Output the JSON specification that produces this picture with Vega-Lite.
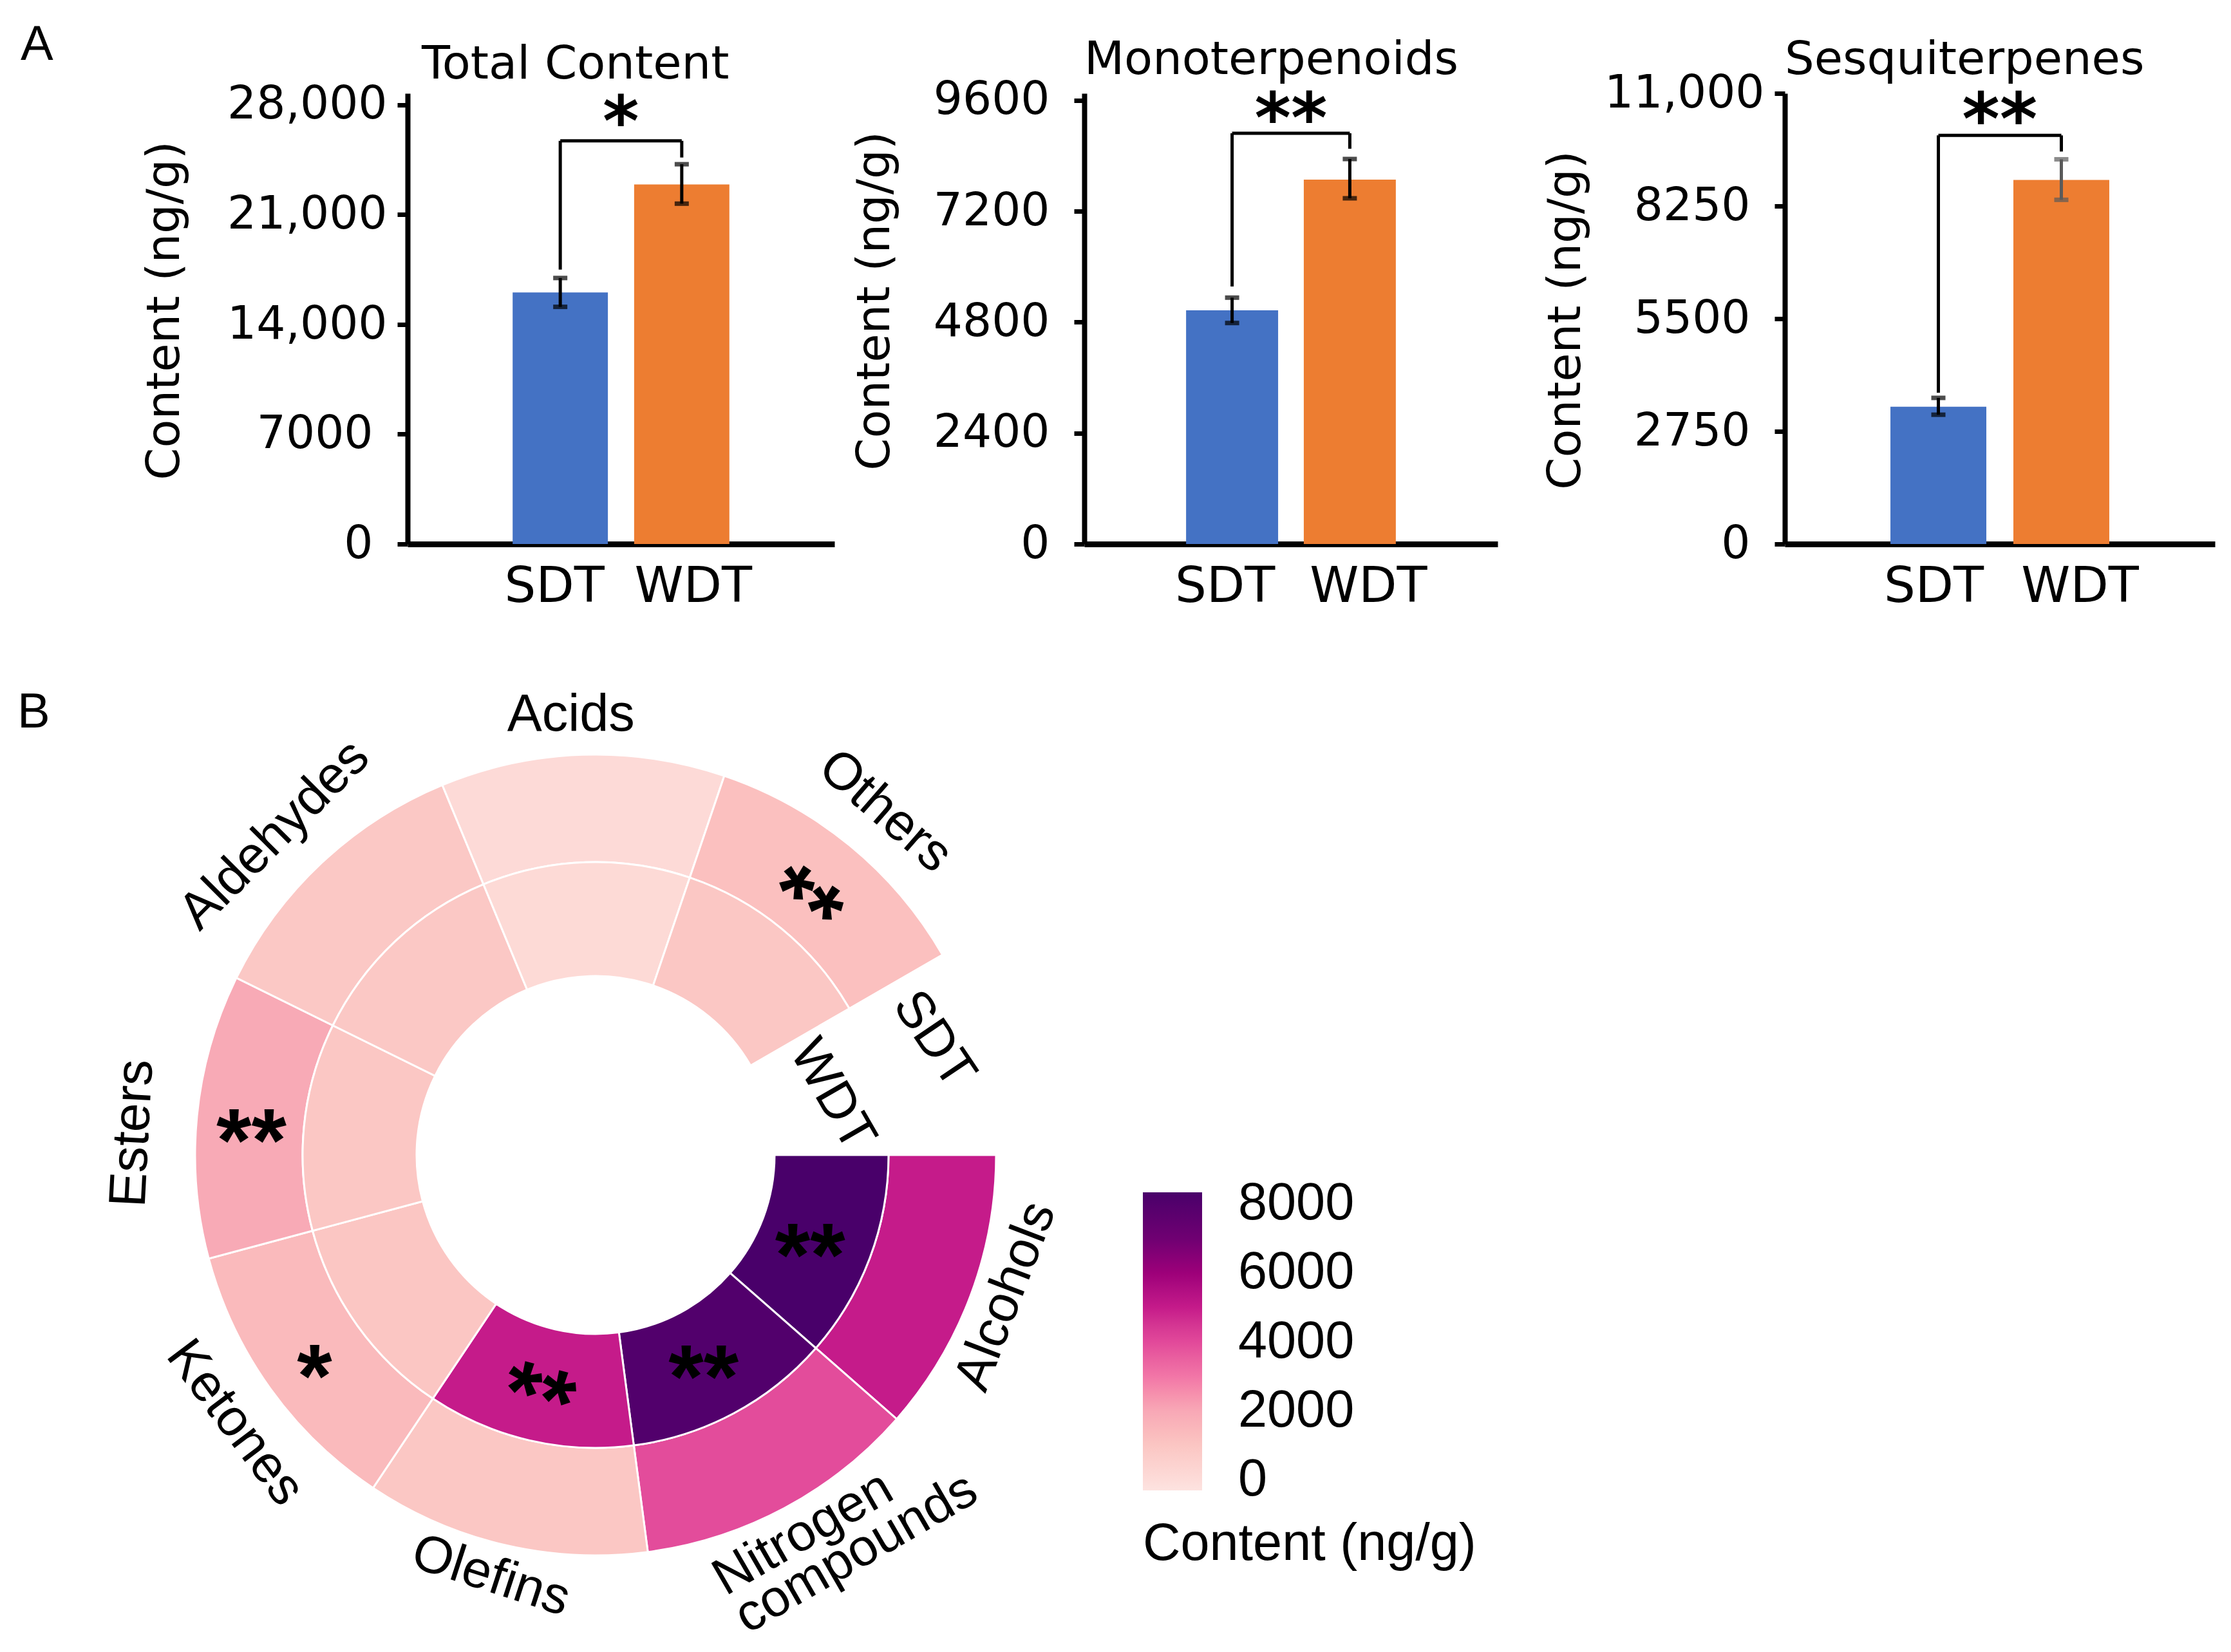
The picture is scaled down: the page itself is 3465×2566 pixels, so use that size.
{
  "$schema": "https://vega.github.io/schema/vega-lite/v6.json",
  "background": "white",
  "padding": {"left": 27, "top": 31, "right": 10, "bottom": 10},
  "autosize": {"type": "pad"},
  "config": {
    "view": {"stroke": null},
    "axis": {"grid": false},
    "text": {"color": "black"}
  },
  "datasets": {
    "bars": [
      {"chart": "Total Content", "group": "SDT", "mean": 16044, "lower": 15124, "upper": 16964},
      {"chart": "Total Content", "group": "WDT", "mean": 22932, "lower": 21705, "upper": 24219},
      {"chart": "Monoterpenoids", "group": "SDT", "mean": 5058, "lower": 4783, "upper": 5332},
      {"chart": "Monoterpenoids", "group": "WDT", "mean": 7886, "lower": 7482, "upper": 8332},
      {"chart": "Sesquiterpenes", "group": "SDT", "mean": 3350, "lower": 3156, "upper": 3567},
      {"chart": "Sesquiterpenes", "group": "WDT", "mean": 8885, "lower": 8401, "upper": 9390}
    ],
    "sig": [
      {"chart": "Total Content", "top": 25711, "sdtLow": 17495, "wdtLow": 24648, "starY": 27346, "label": "*"},
      {"chart": "Monoterpenoids", "top": 8889, "sdtLow": 5573, "wdtLow": 8555, "starY": 9391, "label": "**"},
      {"chart": "Sesquiterpenes", "top": 9974, "sdtLow": 3693, "wdtLow": 9580, "starY": 10495, "label": "**"}
    ],
    "cells": [
      {"category": "Alcohols", "group": "SDT", "content": 5000, "sig": "", "rank": 1},
      {"category": "Alcohols", "group": "WDT", "content": 8340, "sig": "**", "rank": 1},
      {"category": "Nitrogen compounds", "group": "SDT", "content": 3950, "sig": "", "rank": 2},
      {"category": "Nitrogen compounds", "group": "WDT", "content": 8050, "sig": "**", "rank": 2},
      {"category": "Olefins", "group": "SDT", "content": 950, "sig": "", "rank": 3},
      {"category": "Olefins", "group": "WDT", "content": 5000, "sig": "**", "rank": 3},
      {"category": "Ketones", "group": "SDT", "content": 1400, "sig": "*", "rank": 4},
      {"category": "Ketones", "group": "WDT", "content": 1000, "sig": "", "rank": 4},
      {"category": "Esters", "group": "SDT", "content": 1950, "sig": "**", "rank": 5},
      {"category": "Esters", "group": "WDT", "content": 950, "sig": "", "rank": 5},
      {"category": "Aldehydes", "group": "SDT", "content": 900, "sig": "", "rank": 6},
      {"category": "Aldehydes", "group": "WDT", "content": 900, "sig": "", "rank": 6},
      {"category": "Acids", "group": "SDT", "content": 100, "sig": "", "rank": 7},
      {"category": "Acids", "group": "WDT", "content": 120, "sig": "", "rank": 7},
      {"category": "Others", "group": "SDT", "content": 1200, "sig": "**", "rank": 8},
      {"category": "Others", "group": "WDT", "content": 950, "sig": "", "rank": 8}
    ]
  },
  "title": {"text": "A", "anchor": "start", "frame": "bounds", "dx": 5, "offset": -112, "baseline": "alphabetic", "font": "Liberation Sans", "fontSize": 76, "fontWeight": "normal", "color": "black"},
  "vconcat": [
    {
      "hconcat": [
        {
          "width": 663, "height": 700,
          "title": {"text": "Total Content", "anchor": "start", "frame": "group", "dx": 22, "offset": -67, "baseline": "alphabetic", "font": "DejaVu Sans", "fontSize": 72, "fontWeight": "normal", "color": "black"},
          "data": {"name": "bars"},
          "transform": [{"filter": "datum.chart === 'Total Content'"}],
          "encoding": {
            "x": {"field": "group", "type": "nominal", "sort": ["SDT", "WDT"], "scale": {"paddingInner": 0.216, "paddingOuter": 0.865},
              "axis": {"title": null, "labelAngle": 0, "ticks": false, "domainWidth": 9, "domainColor": "black", "labelFont": "DejaVu Sans", "labelFontSize": 77, "labelColor": "black", "labelPadding": 28, "labelBaseline": "top", "labelLimit": 1000, "labelOffset": {"condition": {"test": "datum.value === 'SDT'", "value": -9}, "value": 18}}}
          },
          "layer": [
            {"mark": {"type": "bar"},
             "encoding": {
               "y": {"field": "mean", "type": "quantitative", "title": "Content (ng/g)", "scale": {"domain": [0, 28739], "nice": false},
                 "axis": {"values": [0, 7000, 14000, 21000, 28000], "title": "Content (ng/g)", "titleFont": "DejaVu Sans", "titleFontSize": 72, "titleFontWeight": "normal", "titleColor": "black", "titleX": -341, "titleY": 337, "titleAngle": 270, "titleBaseline": "bottom", "labelFont": "DejaVu Sans", "labelFontSize": 71, "labelColor": "black", "labelLimit": 1000, "tickSize": 16, "tickWidth": 7, "tickColor": "black", "domainWidth": 8, "domainColor": "black", "labelPadding": {"condition": {"test": "datum.value >= 10000", "value": 16}, "value": 38}, "labelExpr": "datum.value >= 10000 ? format(datum.value, ',') : format(datum.value, 'd')"}},
               "color": {"field": "group", "type": "nominal", "scale": {"domain": ["SDT", "WDT"], "range": ["#4472C4", "#ED7D31"]}, "legend": null}
             }},
            {"mark": {"type": "rule", "strokeWidth": 5, "color": "black"},
             "encoding": {"y": {"field": "lower", "type": "quantitative", "title": "Content (ng/g)"}, "y2": {"field": "upper"}}},
            {"mark": {"type": "tick", "thickness": 7, "size": 22, "orient": "horizontal", "color": "black"},
             "encoding": {"y": {"field": "lower", "type": "quantitative", "title": "Content (ng/g)"}}},
            {"mark": {"type": "tick", "thickness": 7, "size": 22, "orient": "horizontal", "color": "black"},
             "encoding": {"y": {"field": "upper", "type": "quantitative", "title": "Content (ng/g)"}}},
            {"data": {"name": "sig"}, "transform": [{"filter": "datum.chart === 'Total Content'"}],
             "mark": {"type": "rule", "strokeWidth": 5, "color": "black"},
             "encoding": {"x": {"datum": "SDT"}, "x2": {"datum": "WDT"}, "y": {"field": "top", "type": "quantitative", "title": "Content (ng/g)"}}},
            {"data": {"name": "sig"}, "transform": [{"filter": "datum.chart === 'Total Content'"}],
             "mark": {"type": "rule", "strokeWidth": 5, "color": "black"},
             "encoding": {"x": {"datum": "SDT"}, "y": {"field": "sdtLow", "type": "quantitative", "title": "Content (ng/g)"}, "y2": {"field": "top"}}},
            {"data": {"name": "sig"}, "transform": [{"filter": "datum.chart === 'Total Content'"}],
             "mark": {"type": "rule", "strokeWidth": 5, "color": "black"},
             "encoding": {"x": {"datum": "WDT"}, "y": {"field": "wdtLow", "type": "quantitative", "title": "Content (ng/g)"}, "y2": {"field": "top"}}},
            {"data": {"name": "sig"}, "transform": [{"filter": "datum.chart === 'Total Content'"}],
             "mark": {"type": "text", "font": "DejaVu Sans", "fontWeight": "bold", "fontSize": 108, "baseline": "top", "dy": -38, "align": "center", "color": "black"},
             "encoding": {"x": {"datum": "SDT", "bandPosition": 1.136}, "y": {"field": "starY", "type": "quantitative", "title": "Content (ng/g)"}, "text": {"field": "label"}}}
          ]
        },
        {
          "hconcat": [
            {
              "width": 642, "height": 700,
              "title": {"text": "Monoterpenoids", "anchor": "start", "frame": "group", "dx": 0, "offset": -67, "baseline": "alphabetic", "font": "DejaVu Sans", "fontSize": 72, "fontWeight": "normal", "color": "black"},
              "data": {"name": "bars"},
              "transform": [{"filter": "datum.chart === 'Monoterpenoids'"}],
              "encoding": {
                "x": {"field": "group", "type": "nominal", "sort": ["SDT", "WDT"], "scale": {"paddingInner": 0.218, "paddingOuter": 0.865},
                  "axis": {"title": null, "labelAngle": 0, "ticks": false, "domainWidth": 9, "domainColor": "black", "labelFont": "DejaVu Sans", "labelFontSize": 77, "labelColor": "black", "labelPadding": 28, "labelBaseline": "top", "labelLimit": 1000, "labelOffset": {"condition": {"test": "datum.value === 'SDT'", "value": -11}, "value": 29}}}
              },
              "layer": [
                {"mark": {"type": "bar"},
                 "encoding": {
                   "y": {"field": "mean", "type": "quantitative", "title": "Content (ng/g)", "scale": {"domain": [0, 9753], "nice": false},
                     "axis": {"values": [0, 2400, 4800, 7200, 9600], "title": "Content (ng/g)", "titleFont": "DejaVu Sans", "titleFontSize": 72, "titleFontWeight": "normal", "titleColor": "black", "titleX": -289, "titleY": 322, "titleAngle": 270, "titleBaseline": "bottom", "labelFont": "DejaVu Sans", "labelFontSize": 71, "labelColor": "black", "labelLimit": 1000, "tickSize": 16, "tickWidth": 7, "tickColor": "black", "domainWidth": 8, "domainColor": "black", "labelPadding": 38, "format": "d"}},
                   "color": {"field": "group", "type": "nominal", "scale": {"domain": ["SDT", "WDT"], "range": ["#4472C4", "#ED7D31"]}, "legend": null}
                 }},
                {"mark": {"type": "rule", "strokeWidth": 5, "color": "black"},
                 "encoding": {"y": {"field": "lower", "type": "quantitative", "title": "Content (ng/g)"}, "y2": {"field": "upper"}}},
                {"mark": {"type": "tick", "thickness": 7, "size": 22, "orient": "horizontal", "color": "black"},
                 "encoding": {"y": {"field": "lower", "type": "quantitative", "title": "Content (ng/g)"}}},
                {"mark": {"type": "tick", "thickness": 7, "size": 22, "orient": "horizontal", "color": "black"},
                 "encoding": {"y": {"field": "upper", "type": "quantitative", "title": "Content (ng/g)"}}},
                {"data": {"name": "sig"}, "transform": [{"filter": "datum.chart === 'Monoterpenoids'"}],
                 "mark": {"type": "rule", "strokeWidth": 5, "color": "black"},
                 "encoding": {"x": {"datum": "SDT"}, "x2": {"datum": "WDT"}, "y": {"field": "top", "type": "quantitative", "title": "Content (ng/g)"}}},
                {"data": {"name": "sig"}, "transform": [{"filter": "datum.chart === 'Monoterpenoids'"}],
                 "mark": {"type": "rule", "strokeWidth": 5, "color": "black"},
                 "encoding": {"x": {"datum": "SDT"}, "y": {"field": "sdtLow", "type": "quantitative", "title": "Content (ng/g)"}, "y2": {"field": "top"}}},
                {"data": {"name": "sig"}, "transform": [{"filter": "datum.chart === 'Monoterpenoids'"}],
                 "mark": {"type": "rule", "strokeWidth": 5, "color": "black"},
                 "encoding": {"x": {"datum": "WDT"}, "y": {"field": "wdtLow", "type": "quantitative", "title": "Content (ng/g)"}, "y2": {"field": "top"}}},
                {"data": {"name": "sig"}, "transform": [{"filter": "datum.chart === 'Monoterpenoids'"}],
                 "mark": {"type": "text", "font": "DejaVu Sans", "fontWeight": "bold", "fontSize": 108, "baseline": "top", "dy": -35, "align": "center", "color": "black"},
                 "encoding": {"x": {"datum": "SDT", "bandPosition": 1.14}, "y": {"field": "starY", "type": "quantitative", "title": "Content (ng/g)"}, "text": {"field": "label"}}}
              ]
            },
            {
              "width": 668, "height": 700,
              "title": {"text": "Sesquiterpenes", "anchor": "start", "frame": "group", "dx": 0, "offset": -78, "baseline": "alphabetic", "font": "DejaVu Sans", "fontSize": 72, "fontWeight": "normal", "color": "black"},
              "data": {"name": "bars"},
              "transform": [{"filter": "datum.chart === 'Sesquiterpenes'"}],
              "encoding": {
                "x": {"field": "group", "type": "nominal", "sort": ["SDT", "WDT"], "scale": {"paddingInner": 0.22, "paddingOuter": 0.859},
                  "axis": {"title": null, "labelAngle": 0, "ticks": false, "domainWidth": 9, "domainColor": "black", "labelFont": "DejaVu Sans", "labelFontSize": 77, "labelColor": "black", "labelPadding": 28, "labelBaseline": "top", "labelLimit": 1000, "labelOffset": {"condition": {"test": "datum.value === 'SDT'", "value": -7}, "value": 29}}}
              },
              "layer": [
                {"mark": {"type": "bar"},
                 "encoding": {
                   "y": {"field": "mean", "type": "quantitative", "title": "Content (ng/g)", "scale": {"domain": [0, 11000], "nice": false},
                     "axis": {"values": [0, 2750, 5500, 8250, 11000], "title": "Content (ng/g)", "titleFont": "DejaVu Sans", "titleFontSize": 72, "titleFontWeight": "normal", "titleColor": "black", "titleX": -304, "titleY": 352, "titleAngle": 270, "titleBaseline": "bottom", "labelFont": "DejaVu Sans", "labelFontSize": 71, "labelColor": "black", "labelLimit": 1000, "tickSize": 16, "tickWidth": 7, "tickColor": "black", "domainWidth": 8, "domainColor": "black", "labelPadding": {"condition": {"test": "datum.value >= 10000", "value": 16}, "value": 38}, "labelExpr": "datum.value >= 10000 ? format(datum.value, ',') : format(datum.value, 'd')"}},
                   "color": {"field": "group", "type": "nominal", "scale": {"domain": ["SDT", "WDT"], "range": ["#4472C4", "#ED7D31"]}, "legend": null}
                 }},
                {"mark": {"type": "rule", "strokeWidth": 5},
                 "encoding": {"y": {"field": "lower", "type": "quantitative", "title": "Content (ng/g)"}, "y2": {"field": "upper"},
                   "color": {"condition": {"test": "datum.group === 'WDT'", "value": "#5a5a5a"}, "value": "black"}}},
                {"mark": {"type": "tick", "thickness": 7, "size": 22, "orient": "horizontal"},
                 "encoding": {"y": {"field": "lower", "type": "quantitative", "title": "Content (ng/g)"},
                   "color": {"condition": {"test": "datum.group === 'WDT'", "value": "#5a5a5a"}, "value": "black"}}},
                {"mark": {"type": "tick", "thickness": 7, "size": 22, "orient": "horizontal"},
                 "encoding": {"y": {"field": "upper", "type": "quantitative", "title": "Content (ng/g)"},
                   "color": {"condition": {"test": "datum.group === 'WDT'", "value": "#5a5a5a"}, "value": "black"}}},
                {"data": {"name": "sig"}, "transform": [{"filter": "datum.chart === 'Sesquiterpenes'"}],
                 "mark": {"type": "rule", "strokeWidth": 5, "color": "black"},
                 "encoding": {"x": {"datum": "SDT"}, "x2": {"datum": "WDT"}, "y": {"field": "top", "type": "quantitative", "title": "Content (ng/g)"}}},
                {"data": {"name": "sig"}, "transform": [{"filter": "datum.chart === 'Sesquiterpenes'"}],
                 "mark": {"type": "rule", "strokeWidth": 5, "color": "black"},
                 "encoding": {"x": {"datum": "SDT"}, "y": {"field": "sdtLow", "type": "quantitative", "title": "Content (ng/g)"}, "y2": {"field": "top"}}},
                {"data": {"name": "sig"}, "transform": [{"filter": "datum.chart === 'Sesquiterpenes'"}],
                 "mark": {"type": "rule", "strokeWidth": 5, "color": "black"},
                 "encoding": {"x": {"datum": "WDT"}, "y": {"field": "wdtLow", "type": "quantitative", "title": "Content (ng/g)"}, "y2": {"field": "top"}}},
                {"data": {"name": "sig"}, "transform": [{"filter": "datum.chart === 'Sesquiterpenes'"}],
                 "mark": {"type": "text", "font": "DejaVu Sans", "fontWeight": "bold", "fontSize": 112, "baseline": "top", "dy": -41, "align": "center", "color": "black"},
                 "encoding": {"x": {"datum": "SDT", "bandPosition": 1.14}, "y": {"field": "starY", "type": "quantitative", "title": "Content (ng/g)"}, "text": {"field": "label"}}}
              ]
            }
          ],
          "spacing": 446,
          "bounds": "flush"
        }
      ],
      "spacing": 388,
      "bounds": "flush"
    },
    {
      "width": 584, "height": 584,
      "title": {"text": "B", "anchor": "start", "frame": "group", "dx": -606, "offset": -136, "baseline": "alphabetic", "font": "Liberation Sans", "fontSize": 76, "fontWeight": "normal", "color": "black"},
      "data": {"name": "cells"},
      "resolve": {"scale": {"angle": "independent"}},
      "layer": [
        {
          "transform": [{"filter": "datum.group === 'SDT'"}],
          "mark": {"type": "arc", "outerRadius": 622, "innerRadius": 455, "stroke": "white", "strokeWidth": 3},
          "encoding": {
            "theta": {"aggregate": "count", "type": "quantitative", "stack": true, "scale": {"domain": [0, 8], "range": [1.5708, 7.3304]}},
            "order": {"field": "rank", "type": "quantitative"},
            "color": {"field": "content", "type": "quantitative", "title": "Content (ng/g)",
              "scale": {"domain": [-300, 1000, 2000, 3000, 4000, 5000, 6000, 7000, 8340], "range": ["#fde3e0", "#fbc6c3", "#f8a8b6", "#f276a7", "#e2499a", "#c51b8a", "#9d0079", "#6f0072", "#49006a"], "nice": false},
              "legend": {"orient": "none", "legendX": 1142, "legendY": 350, "direction": "vertical", "gradientLength": 463, "gradientThickness": 92, "values": [0, 2000, 4000, 6000, 8000], "format": "d", "labelFont": "Liberation Sans", "labelFontSize": 81, "labelColor": "black", "labelOffset": 56, "labelOverlap": false, "labelLimit": 1000, "titleOrient": "bottom", "titleFont": "Liberation Sans", "titleFontSize": 81, "titleFontWeight": "normal", "titleColor": "black", "titlePadding": 20, "titleAnchor": "start", "titleLimit": 2000, "gradientStrokeWidth": 0}}
          }
        },
        {
          "transform": [{"filter": "datum.group === 'WDT'"}],
          "mark": {"type": "arc", "outerRadius": 455, "innerRadius": 278, "stroke": "white", "strokeWidth": 3},
          "encoding": {
            "theta": {"aggregate": "count", "type": "quantitative", "stack": true, "scale": {"domain": [0, 8], "range": [1.5708, 7.3304]}},
            "order": {"field": "rank", "type": "quantitative"},
            "color": {"field": "content", "type": "quantitative", "title": "Content (ng/g)"}
          }
        },
        {
          "transform": [{"filter": "datum.group === 'SDT'"}],
          "mark": {"type": "text", "radius": 537, "font": "Liberation Sans", "fontWeight": "bold", "fontSize": 140, "baseline": "top", "dy": -33, "align": "center", "color": "black"},
          "encoding": {
            "theta": {"aggregate": "count", "type": "quantitative", "stack": true, "scale": {"domain": [0, 8], "range": [1.5708, 7.3304]}},
            "order": {"field": "rank", "type": "quantitative"},
            "text": {"field": "sig", "type": "nominal"},
            "angle": {"field": "category", "type": "nominal", "scale": {"type": "ordinal", "domain": ["Alcohols", "Nitrogen compounds", "Olefins", "Ketones", "Esters", "Aldehydes", "Acids", "Others"], "range": [0, 0, 0, 0, 0, 0, 0, 35]}}
          }
        },
        {
          "transform": [{"filter": "datum.group === 'WDT'"}],
          "mark": {"type": "text", "radius": 356, "font": "Liberation Sans", "fontWeight": "bold", "fontSize": 140, "baseline": "top", "dy": -33, "align": "center", "color": "black"},
          "encoding": {
            "theta": {"aggregate": "count", "type": "quantitative", "stack": true, "scale": {"domain": [0, 8], "range": [1.5708, 7.3304]}},
            "order": {"field": "rank", "type": "quantitative"},
            "text": {"field": "sig", "type": "nominal"},
            "angle": {"field": "category", "type": "nominal", "scale": {"type": "ordinal", "domain": ["Alcohols", "Nitrogen compounds", "Olefins", "Ketones", "Esters", "Aldehydes", "Acids", "Others"], "range": [0, 0, 15, 0, 0, 0, 0, 0]}}
          }
        },
        {
          "transform": [{"filter": "datum.group === 'SDT'"}],
          "mark": {"type": "text", "radius": 674, "dx": 19, "angle": -69, "font": "Liberation Sans", "fontSize": 81, "align": "center", "baseline": "middle", "color": "black"},
          "encoding": {
            "theta": {"aggregate": "count", "type": "quantitative", "stack": true, "scale": {"domain": [0, 8], "range": [1.5708, 7.3304]}},
            "order": {"field": "rank", "type": "quantitative"},
            "text": {"condition": {"test": "datum.category !== 'Alcohols'", "value": ""}, "field": "category", "type": "nominal"}
          }
        },
        {
          "transform": [{"filter": "datum.group === 'SDT'"}],
          "mark": {"type": "text", "radius": 705, "dx": -145, "dy": -34, "angle": -30, "font": "Liberation Sans", "fontSize": 81, "lineBreak": " ", "lineHeight": 68, "align": "left", "baseline": "middle", "color": "black"},
          "encoding": {
            "theta": {"aggregate": "count", "type": "quantitative", "stack": true, "scale": {"domain": [0, 8], "range": [1.5708, 7.3304]}},
            "order": {"field": "rank", "type": "quantitative"},
            "text": {"condition": {"test": "datum.category !== 'Nitrogen compounds'", "value": ""}, "field": "category", "type": "nominal"}
          }
        },
        {
          "transform": [{"filter": "datum.group === 'SDT'"}],
          "mark": {"type": "text", "radius": 675, "dx": -10, "angle": 18, "font": "Liberation Sans", "fontSize": 81, "align": "center", "baseline": "middle", "color": "black"},
          "encoding": {
            "theta": {"aggregate": "count", "type": "quantitative", "stack": true, "scale": {"domain": [0, 8], "range": [1.5708, 7.3304]}},
            "order": {"field": "rank", "type": "quantitative"},
            "text": {"condition": {"test": "datum.category !== 'Olefins'", "value": ""}, "field": "category", "type": "nominal"}
          }
        },
        {
          "transform": [{"filter": "datum.group === 'SDT'"}],
          "mark": {"type": "text", "radius": 698, "dx": 12, "angle": 53, "font": "Liberation Sans", "fontSize": 81, "align": "center", "baseline": "middle", "color": "black"},
          "encoding": {
            "theta": {"aggregate": "count", "type": "quantitative", "stack": true, "scale": {"domain": [0, 8], "range": [1.5708, 7.3304]}},
            "order": {"field": "rank", "type": "quantitative"},
            "text": {"condition": {"test": "datum.category !== 'Ketones'", "value": ""}, "field": "category", "type": "nominal"}
          }
        },
        {
          "transform": [{"filter": "datum.group === 'SDT'"}],
          "mark": {"type": "text", "radius": 720, "dx": -37, "angle": -87, "font": "Liberation Sans", "fontSize": 81, "align": "center", "baseline": "middle", "color": "black"},
          "encoding": {
            "theta": {"aggregate": "count", "type": "quantitative", "stack": true, "scale": {"domain": [0, 8], "range": [1.5708, 7.3304]}},
            "order": {"field": "rank", "type": "quantitative"},
            "text": {"condition": {"test": "datum.category !== 'Esters'", "value": ""}, "field": "category", "type": "nominal"}
          }
        },
        {
          "transform": [{"filter": "datum.group === 'SDT'"}],
          "mark": {"type": "text", "radius": 704, "dx": -24, "angle": -45, "font": "Liberation Sans", "fontSize": 81, "align": "center", "baseline": "middle", "color": "black"},
          "encoding": {
            "theta": {"aggregate": "count", "type": "quantitative", "stack": true, "scale": {"domain": [0, 8], "range": [1.5708, 7.3304]}},
            "order": {"field": "rank", "type": "quantitative"},
            "text": {"condition": {"test": "datum.category !== 'Aldehydes'", "value": ""}, "field": "category", "type": "nominal"}
          }
        },
        {
          "transform": [{"filter": "datum.group === 'SDT'"}],
          "mark": {"type": "text", "radius": 683, "dx": -16, "angle": 0, "font": "Liberation Sans", "fontSize": 81, "align": "center", "baseline": "middle", "color": "black"},
          "encoding": {
            "theta": {"aggregate": "count", "type": "quantitative", "stack": true, "scale": {"domain": [0, 8], "range": [1.5708, 7.3304]}},
            "order": {"field": "rank", "type": "quantitative"},
            "text": {"condition": {"test": "datum.category !== 'Acids'", "value": ""}, "field": "category", "type": "nominal"}
          }
        },
        {
          "transform": [{"filter": "datum.group === 'SDT'"}],
          "mark": {"type": "text", "radius": 698, "dx": 9, "angle": 41, "font": "Liberation Sans", "fontSize": 81, "align": "center", "baseline": "middle", "color": "black"},
          "encoding": {
            "theta": {"aggregate": "count", "type": "quantitative", "stack": true, "scale": {"domain": [0, 8], "range": [1.5708, 7.3304]}},
            "order": {"field": "rank", "type": "quantitative"},
            "text": {"condition": {"test": "datum.category !== 'Others'", "value": ""}, "field": "category", "type": "nominal"}
          }
        },
        {
          "data": {"values": [{"ring": "SDT"}]},
          "mark": {"type": "text", "radius": 555, "angle": 56, "font": "Liberation Sans", "fontSize": 81, "align": "center", "baseline": "middle", "color": "black"},
          "encoding": {
            "theta": {"datum": -0.456, "type": "quantitative", "scale": {"domain": [0, 8], "range": [1.5708, 7.3304]}},
            "text": {"field": "ring", "type": "nominal"}
          }
        },
        {
          "data": {"values": [{"ring": "WDT"}]},
          "mark": {"type": "text", "radius": 379, "angle": 60, "font": "Liberation Sans", "fontSize": 81, "align": "center", "baseline": "middle", "color": "black"},
          "encoding": {
            "theta": {"datum": -0.344, "type": "quantitative", "scale": {"domain": [0, 8], "range": [1.5708, 7.3304]}},
            "text": {"field": "ring", "type": "nominal"}
          }
        }
      ]
    }
  ],
  "spacing": 1357,
  "bounds": "flush"
}
